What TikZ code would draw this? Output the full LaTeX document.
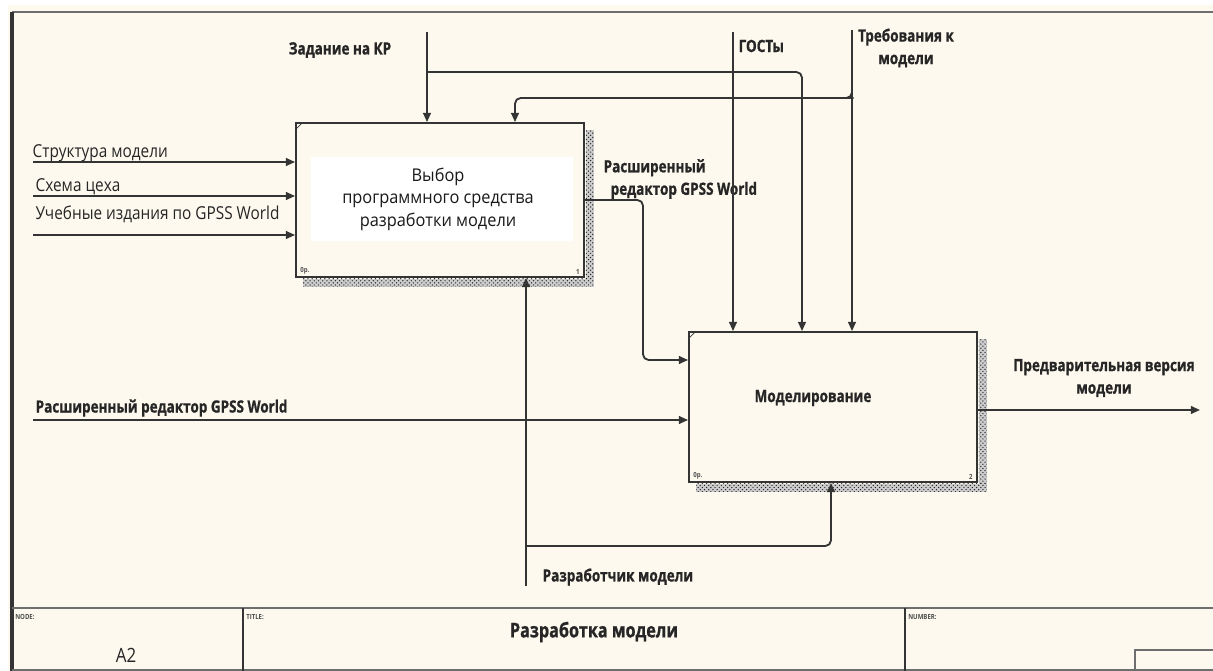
\documentclass[tikz,border=0pt]{standalone}
\usepackage{fontspec}
\setmainfont{Open Sans}
\newfontfamily\narrowfont[FakeStretch=0.86]{Open Sans}
\newfontfamily\heavyfont[FakeStretch=0.8,FakeBold=0.9]{Open Sans}
\newfontfamily\boxfont[FakeStretch=0.93]{Open Sans}
\usetikzlibrary{arrows.meta,patterns}
\definecolor{paper}{RGB}{253,249,238}
\definecolor{ink}{RGB}{52,52,52}
\definecolor{rule}{RGB}{110,110,110}
\tikzset{
  pipe/.style={draw=ink,line width=1.3pt},
  flow/.style={pipe,-{Triangle[length=6.5pt,width=5.5pt]}},
  actbox/.style={draw=ink,line width=1.3pt,fill=paper,minimum width=7.2cm,inner sep=0pt},
  hatch/.style={fill=gray!40,postaction={pattern=crosshatch dots,pattern color=black!85}},
  lbl/.style={font=\heavyfont\bfseries\fontsize{12}{16}\selectfont,text=black!85,inner sep=1pt},
  thinlbl/.style={font=\narrowfont\fontsize{12.7}{14}\selectfont,text=black!85,inner sep=1pt},
  tiny/.style={font=\narrowfont\bfseries\fontsize{5}{6}\selectfont,text=black!70,inner sep=0pt},
}
\begin{document}
\begin{tikzpicture}[x=0.025cm,y=-0.025cm]
  \useasboundingbox (0,0) rectangle (1213,671);
  \fill[paper] (8,5) rectangle (1213,671);
  % frame and title block
  \draw[rule,line width=1.5pt] (12,12) -- (1213,12);
  \draw[ink,line width=2.2pt] (12,12) -- (12,671);
  \draw[rule,line width=1.5pt] (12,608) -- (1213,608);
  \draw[rule,line width=1.5pt] (12,670) -- (1213,670);
  \draw[ink,line width=1pt] (243,608) -- (243,671) (905,608) -- (905,671);
  \draw[rule,line width=1.3pt] (1135,671) -- (1135,650) -- (1213,650);
  \node[tiny,anchor=north west] (nodecap) at (15,614) {NODE:};
  \node[tiny,anchor=north west] (titlecap) at (246,614) {TITLE:};
  \node[tiny,anchor=north west] (numcap) at (908,614) {NUMBER:};
  \node[font=\narrowfont\fontsize{14}{16}\selectfont,text=black!85] (nodeno) at (126,655) {A2};
  \node[lbl,font=\heavyfont\bfseries\fontsize{14.4}{16}\selectfont] (title) at (594,632) {Разработка модели};

  % activity boxes
  \node[actbox,minimum height=3.85cm] (box1) at (440,200) {};
  \node[actbox,minimum height=3.75cm] (box2) at (833,407) {};
  \fill[hatch] ([shift={(1,8)}]box1.north east) rectangle ([shift={(9,9)}]box1.south east);
  \fill[hatch] ([shift={(8,1)}]box1.south west) rectangle ([shift={(9,9)}]box1.south east);
  \fill[hatch] ([shift={(1,8)}]box2.north east) rectangle ([shift={(9,9)}]box2.south east);
  \fill[hatch] ([shift={(8,1)}]box2.south west) rectangle ([shift={(9,9)}]box2.south east);
  \draw[ink,line width=0.5pt] ([shift={(0,8)}]box1.north west) -- ([shift={(8,0)}]box1.north west);
  \draw[ink,line width=0.5pt] ([shift={(0,8)}]box2.north west) -- ([shift={(8,0)}]box2.north west);
  \node[tiny,anchor=south west] (cost1) at ([shift={(5,-3)}]box1.south west) {0р.};
  \node[tiny,anchor=south east] (num1) at ([shift={(-5,-3)}]box1.south east) {1};
  \node[tiny,anchor=south west] (cost2) at ([shift={(5,-3)}]box2.south west) {0р.};
  \node[tiny,anchor=south east] (num2) at ([shift={(-5,-3)}]box2.south east) {2};
  \node[fill=white,minimum width=6.55cm,minimum height=2.08cm] (box1bg) at (442,199) {};
  \node[align=center,text=black!90,font=\boxfont\fontsize{12.5}{16}\selectfont] (box1txt) at (438,199)
        {Выбор\\программного средства\\разработки модели};
  \node[lbl] (box2txt) at (813,398) {Моделирование};

  % arrow labels
  \node[lbl] (zad) at (340,50) {Задание на КР};
  \node[lbl,anchor=west] (gost) at (737,46) {ГОСТы};
  \node[lbl,align=center] (treb) at (906,48) {Требования к\\модели};
  \node[lbl,align=left,anchor=west] (redout) at (602,179) {Расширенный\\\hspace*{5pt}редактор GPSS World};
  \node[lbl,anchor=west] (redin) at (34,408) {Расширенный редактор GPSS World};
  \node[lbl,align=center] (prev) at (1104,378) {Предварительная версия\\модели};
  \node[lbl,anchor=west] (razr) at (541,577) {Разработчик модели};
  \node[thinlbl,anchor=west] (struct) at (31,153) {Структура модели};
  \node[thinlbl,anchor=west] (shema) at (34,187) {Схема цеха};
  \node[thinlbl,anchor=west] (ucheb) at (34,214) {Учебные издания по GPSS World};

  % free ends of the arrows
  \coordinate (zadtop) at (427,32);
  \coordinate (zadbr) at (427,72);
  \coordinate (gosttop) at (733,32);
  \coordinate (trebtop) at (852,30);
  \coordinate (trebbr) at (852,92);
  \coordinate (in1) at (33,162);
  \coordinate (in2) at (33,196);
  \coordinate (in3) at (33,235);
  \coordinate (in4) at (33,420);
  \coordinate (bendout) at (643,200);
  \coordinate (outend) at (1200,410);
  \coordinate (mechbot) at (526,586);
  \coordinate (mechbr) at (526,546);

  \begin{scope}[rounded corners=4pt]
    \draw[flow] (zadtop) -- (zadtop |- box1.north);
    \draw[flow] (zadbr) -| ([shift={(-31,0)}]box2.north);
    \draw[flow] (gosttop) -- (gosttop |- box2.north);
    \draw[flow] (trebtop) -- (trebtop |- box2.north);
    \draw[flow] (trebbr) |- ([shift={(-4,6)}]trebbr) -| ([shift={(75,0)}]box1.north);
    \draw[flow] (in1) -- (in1 -| box1.west);
    \draw[flow] (in2) -- (in2 -| box1.west);
    \draw[flow] (in3) -- (in3 -| box1.west);
    \draw[flow] (in4) -- (in4 -| box2.west);
    \draw[flow] (box1.east) -- (bendout) |- ([shift={(0,-47)}]box2.west);
    \draw[flow] ([shift={(0,3)}]box2.east) -- (outend);
    \draw[flow] (mechbot) -- (mechbot |- box1.south);
    \draw[flow] (mechbr) -| ([shift={(-2,0)}]box2.south);
  \end{scope}
\end{tikzpicture}
\end{document}
